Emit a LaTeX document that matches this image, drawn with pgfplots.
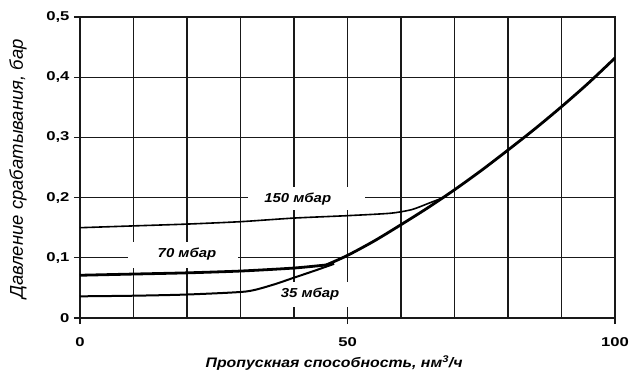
\documentclass[border=0pt]{standalone}
\usepackage{pgfplots}
\pgfplotsset{compat=1.18}
\usepackage{fontspec}
\setmainfont{Liberation Sans}
\newfontfamily\sfx[FakeStretch=1.3]{Liberation Sans}
\newfontfamily\sfy[FakeStretch=1.15]{Liberation Sans}
\begin{document}
\begin{tikzpicture}
\begin{axis}[
  scale only axis, width=535pt, height=301pt,
  xmin=0, xmax=100, ymin=0, ymax=0.5,
  xtick={0,50,100}, minor xtick={10,20,30,40,60,70,80,90},
  ytick={0,0.1,0.2,0.3,0.4,0.5},
  grid=both,
  major grid style={black!90, line width=1.05pt},
  minor grid style={black!90, line width=1.05pt},
  axis line style={black!90, line width=1.05pt},
  tick style={black!90, line width=1.05pt},
  tick align=outside, major tick length=6pt, minor tick length=0pt,
  xtick pos=left, ytick pos=left,
  /pgf/number format/assume math mode=true,
  /pgf/number format/use comma,
  /pgf/number format/fixed,
  ticklabel style={font=\sfx\bfseries\fontsize{12.8}{12.8}\selectfont},
  yticklabel style={xshift=-1pt},
  xticklabel style={yshift=-10pt},
  xlabel={Пропускная способность, нм\textsuperscript{3}/ч},
  xlabel style={font=\sfy\bfseries\itshape\fontsize{13.8}{13.8}\selectfont, at={(axis description cs:0.475,0)}, anchor=center, yshift=-45pt},
  ylabel={Давление срабатывания, бар},
  ylabel style={font=\itshape\fontsize{18.5}{18.5}\selectfont, at={(axis description cs:-0.116,0.495)}, anchor=center},
]
% label boxes (gaps in the grid)
\fill[white] (axis cs:31.4,0.179) rectangle (axis cs:53.3,0.218);
\fill[white] (axis cs:9,0.083) rectangle (axis cs:29.5,0.126);
\fill[white] (axis cs:36.5,0.018) rectangle (axis cs:51.5,0.060);
% 150 mbar
\addplot[black, line width=1.6pt, smooth, tension=0.4] coordinates {
(0,0.150) (10,0.153) (20,0.156) (30,0.160) (40,0.166) (50,0.170) (58,0.174) (62,0.180) (65,0.190) (68.5,0.202)};
% 35 mbar
\addplot[black, line width=2pt, smooth, tension=0.4] coordinates {
(0,0.036) (10,0.037) (20,0.039) (31,0.044) (36,0.055) (40,0.067) (44,0.079) (47.5,0.090)};
% 70 mbar
\addplot[black, line width=2.8pt, smooth, tension=0.4] coordinates {
(0,0.071) (10,0.073) (20,0.075) (30,0.078) (40,0.083) (47,0.089)};
% main curve
\addplot[black, line width=2.8pt, smooth] coordinates {
(46,0.088) (50,0.104) (55,0.128) (60,0.155) (65,0.183) (70,0.213) (75,0.245) (80,0.279) (85,0.314) (90,0.351) (95,0.390) (100,0.432)};
\node[font=\sfy\bfseries\itshape\fontsize{13}{13}\selectfont] at (axis cs:40.7,0.198) {150 мбар};
\node[font=\sfy\bfseries\itshape\fontsize{13}{13}\selectfont] at (axis cs:20,0.106) {70 мбар};
\node[font=\sfy\bfseries\itshape\fontsize{13}{13}\selectfont] at (axis cs:43,0.040) {35 мбар};
\end{axis}
\pgfresetboundingbox
\path ([shift={(-80pt,-53pt)}]current axis.south west) rectangle ([shift={(18pt,17pt)}]current axis.north east);
\end{tikzpicture}
\end{document}
